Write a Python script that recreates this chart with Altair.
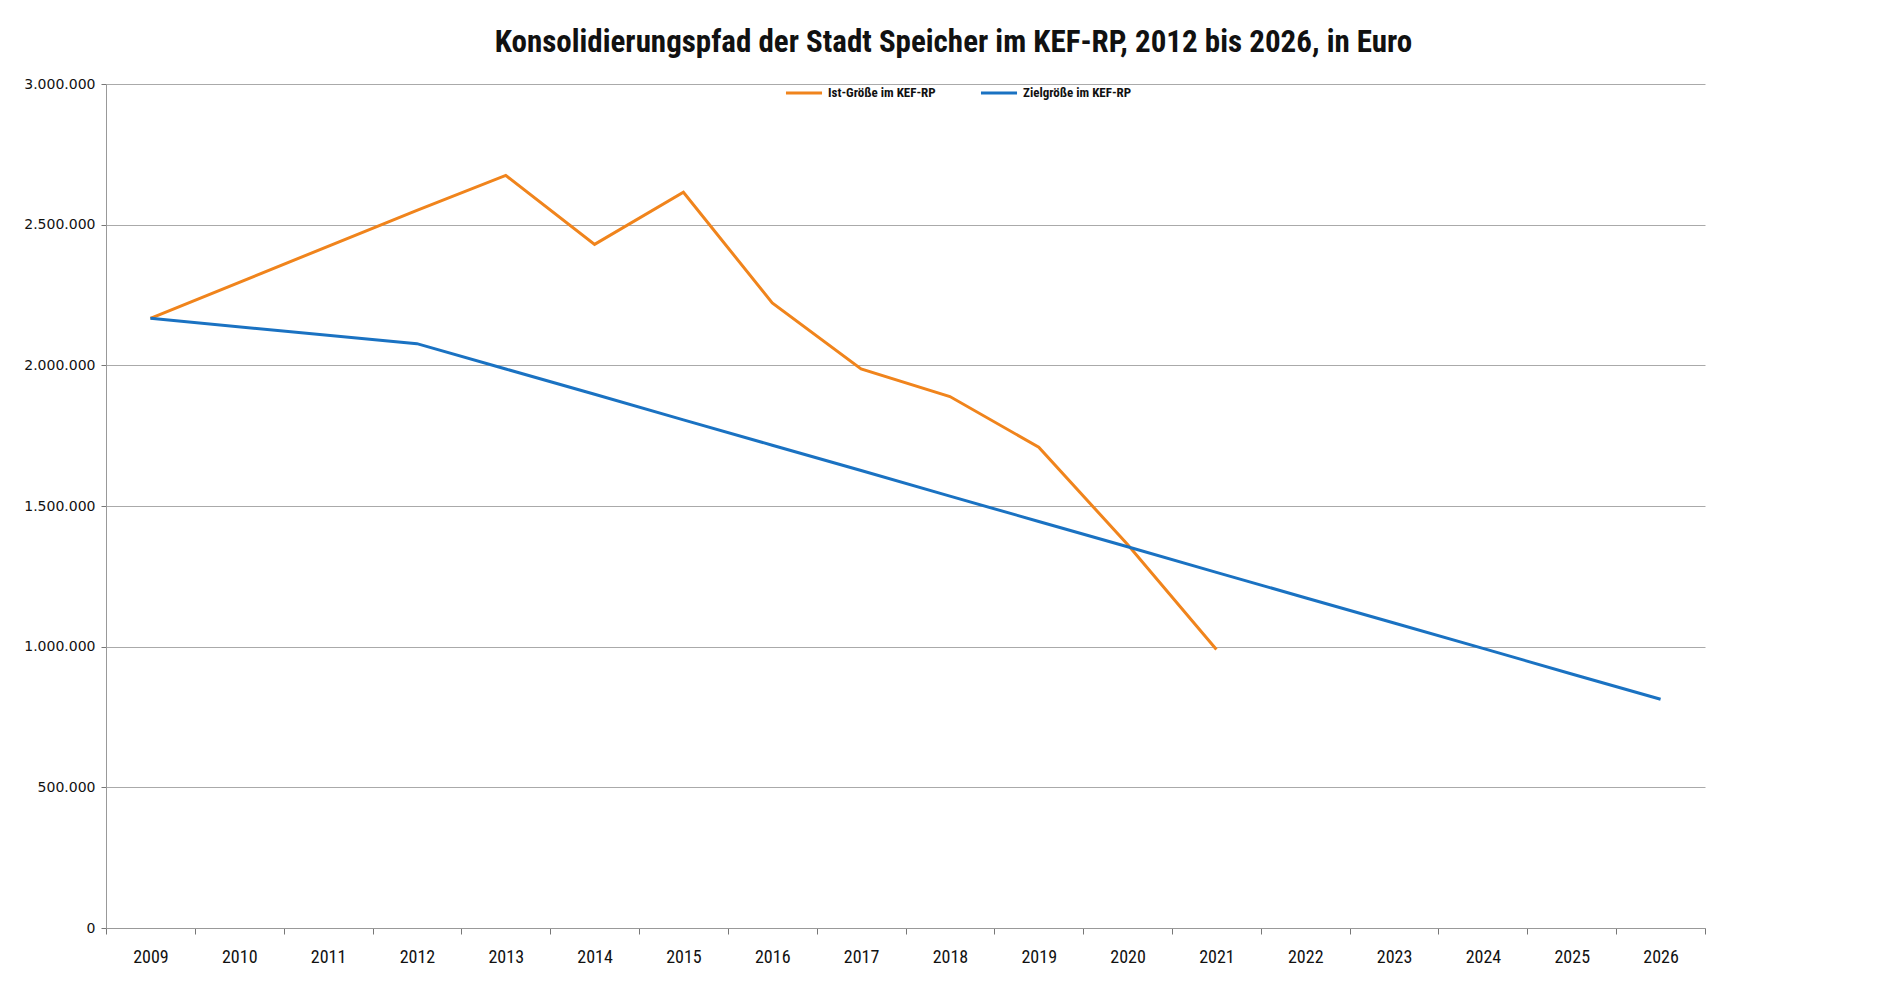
import altair as alt
import pandas as pd

years = [str(y) for y in range(2009, 2027)]

ist_values = [2167000, None, None, 2551000, 2675000, 2430000, 2615000, 2222000,
              1987000, 1889000, 1709000, 1363000, 990000,
              None, None, None, None, None]

ziel_values = [2167000, None, None, 2077000, 1987000, 1897000, 1806000, 1716000,
               1626000, 1535000, 1445000, 1355000, 1264000, 1174000, 1084000,
               994000, 903000, 813000]

series_names = ["Ist-Größe im KEF-RP", "Zielgröße im KEF-RP"]
series_colors = ["#F0841C", "#1A72C2"]
y_ticks = [0, 500000, 1000000, 1500000, 2000000, 2500000, 3000000]

rows = []
for i, y in enumerate(years):
    if ist_values[i] is not None:
        rows.append({"Jahr": y, "Idx": i, "Reihe": series_names[0], "Wert": ist_values[i]})
    if ziel_values[i] is not None:
        rows.append({"Jahr": y, "Idx": i, "Reihe": series_names[1], "Wert": ziel_values[i]})
df = pd.DataFrame(rows)

chart = alt.Chart(df).mark_line(strokeWidth=3).encode(
    x=alt.X("Jahr:O",
            scale=alt.Scale(type="band", domain=years, paddingInner=0, paddingOuter=0),
            axis=alt.Axis(title=None, labelAngle=0, tickBand="extent",
                          labelFont="Roboto Condensed, Roboto", labelFontSize=18,
                          labelColor="#111111", labelPadding=14, tickSize=6,
                          tickColor="#777777", domainColor="#999999", grid=False)),
    y=alt.Y("Wert:Q",
            scale=alt.Scale(domain=[0, 3000000], nice=False),
            axis=alt.Axis(title=None, values=y_ticks,
                          labelExpr="replace(format(datum.value, ',d'), /,/g, '.')",
                          labelFont="DejaVu Sans", labelFontSize=14,
                          labelColor="#111111", labelPadding=6, tickSize=5,
                          tickColor="#777777", domainColor="#999999",
                          gridColor="#AAAAAA", gridWidth=1)),
    color=alt.Color("Reihe:N",
                    scale=alt.Scale(domain=series_names, range=series_colors),
                    legend=alt.Legend(title=None, orient="none", direction="horizontal",
                                      legendX=678, legendY=-11,
                                      symbolType="stroke", symbolStrokeWidth=3,
                                      symbolSize=1300, columnPadding=38,
                                      labelFont="Roboto Condensed, Roboto",
                                      labelFontSize=13, labelFontWeight="bold",
                                      labelColor="#111111")),
    order=alt.Order("Idx:Q"),
).properties(
    width=1599,
    height=844,
    padding={"left": 98, "top": 76, "right": 180, "bottom": 51},
    autosize=alt.AutoSizeParams(type="none"),
    title=alt.TitleParams(
        "Konsolidierungspfad der Stadt Speicher im KEF-RP, 2012 bis 2026, in Euro",
        font="Roboto Condensed, Roboto", fontSize=31, fontWeight="bold",
        color="#111111", anchor="middle", dx=48, offset=14),
).configure(background="white").configure_view(stroke=None, strokeWidth=0)

chart.save("out.html", embed_options={"renderer": "svg", "actions": False})
